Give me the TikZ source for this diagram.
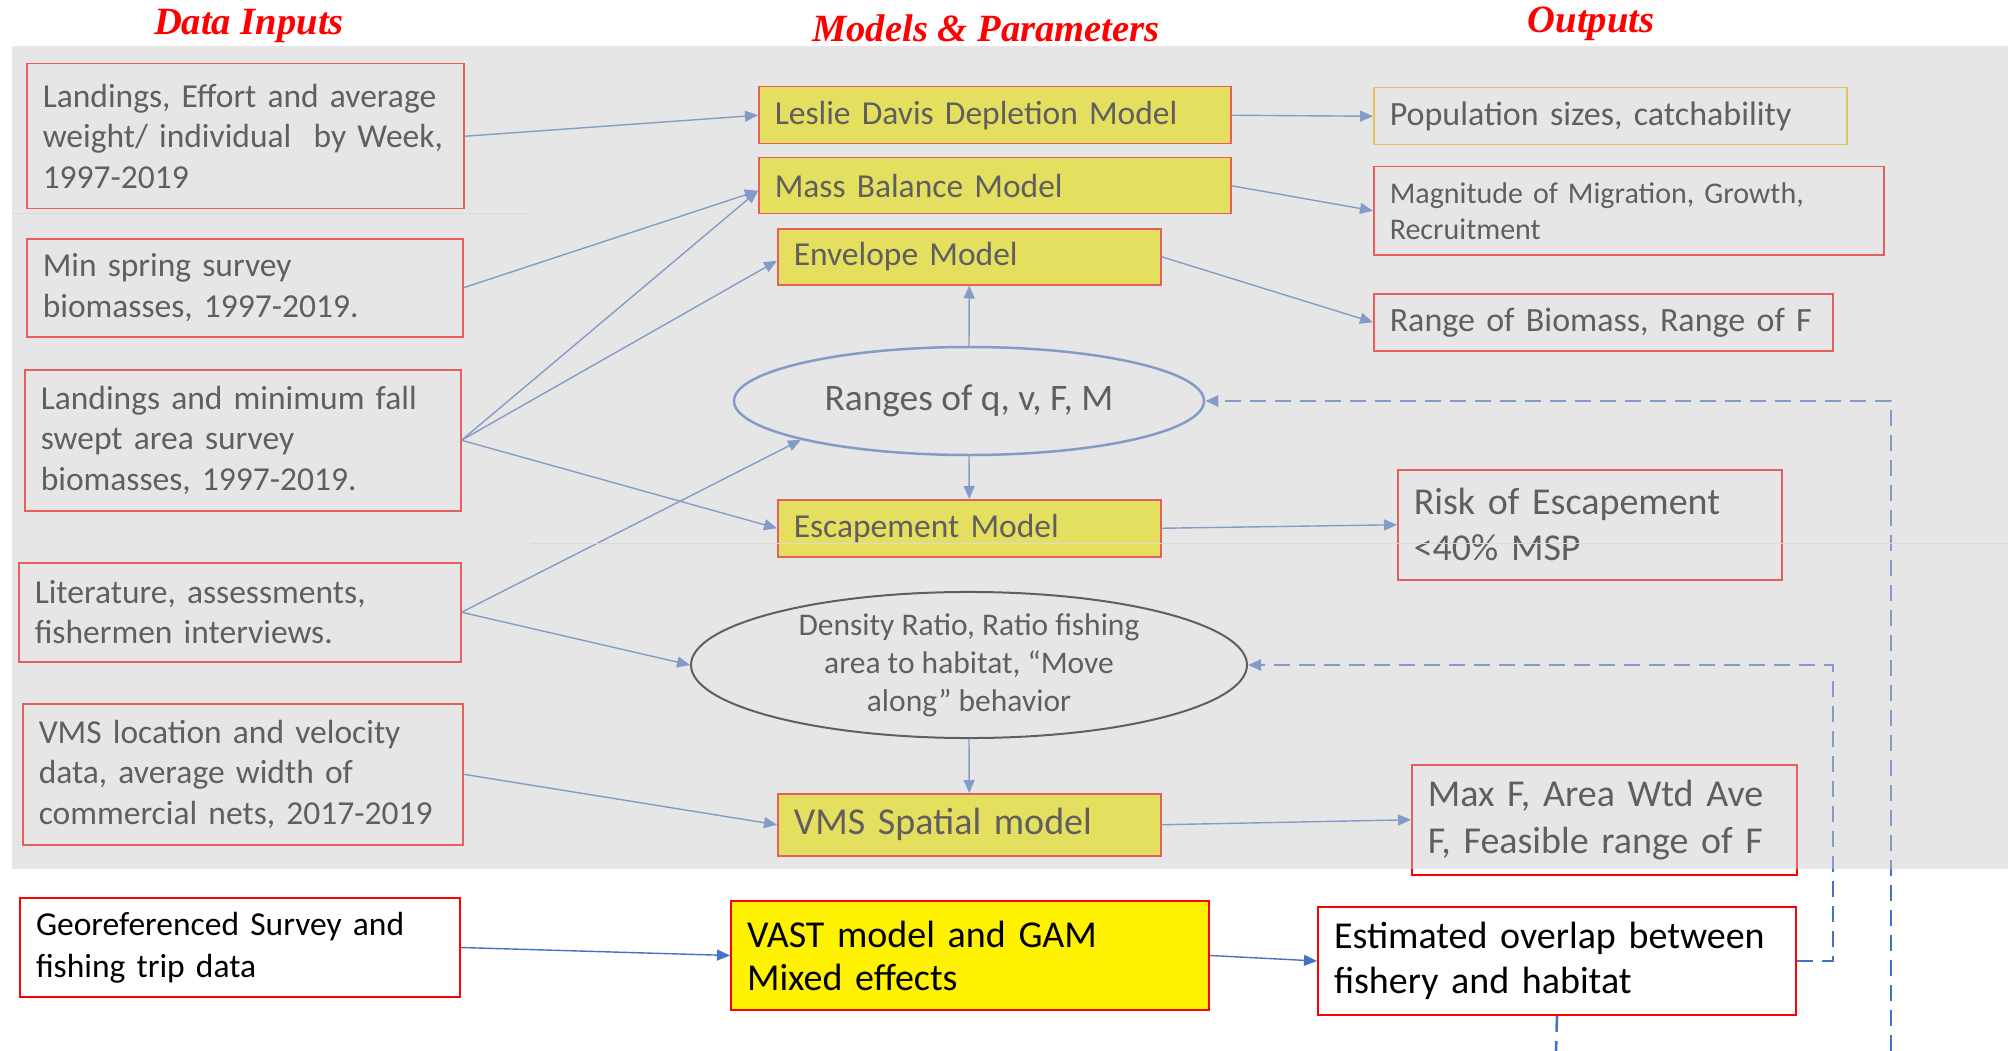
\documentclass[tikz,border=0pt]{standalone}
\usepackage{fontspec}
\setmainfont{Carlito}
\newfontfamily\titlefont{Liberation Serif}
\usetikzlibrary{arrows.meta,shapes.geometric,positioning}
\definecolor{linkblue}{HTML}{4472C4}
\definecolor{gold}{HTML}{FFC000}
\definecolor{hazegray}{RGB}{202,202,202}
\definecolor{seam}{RGB}{218,218,218}
\tikzset{
  databox/.style={draw=red, line width=1.5pt, anchor=north west, align=left,
    inner xsep=16pt, inner ysep=0pt, font=\fontsize{33.5}{40.5}\selectfont},
  modelbox/.style={databox, fill=yellow},
  bigtext/.style={font=\fontsize{38}{46}\selectfont},
  link/.style={draw=linkblue, line width=1.4pt, -{Triangle[length=13pt,width=11pt]}},
  feedback/.style={link, line width=2.6pt, dash pattern=on 16pt off 9pt},
  heading/.style={anchor=base, text=red, font=\titlefont\bfseries\itshape\fontsize{38.6}{40}\selectfont},
  haze/.style={fill=hazegray, fill opacity=0.475},
}
\begin{document}
\begin{tikzpicture}[x=1pt, y=-1pt]
  \useasboundingbox (0,0) rectangle (2010,1051);
  % column headings
  \node[heading] (hin) at (249,35) {Data Inputs};
  \node[heading] (hmod) at (986,42) {Models \& Parameters};
  \node[heading] (hout) at (1591,33) {Outputs};

  % data inputs
  \node[databox, minimum width=437pt, minimum height=145pt, text width=405pt] (in1) at (26,63)
    {Landings, Effort and average\\weight/ individual\ \ by Week,\\1997-2019};
  \node[databox, minimum width=436pt, minimum height=98pt, text width=404pt] (in2) at (26,238)
    {Min spring survey\\biomasses, 1997-2019.};
  \node[databox, minimum width=436pt, minimum height=141pt, text width=404pt] (in3) at (24,369)
    {Landings and minimum fall\\swept area survey\\biomasses, 1997-2019.};
  \node[databox, minimum width=442pt, minimum height=99pt, text width=410pt] (in4) at (18,562)
    {Literature, assessments,\\fishermen interviews.};
  \node[databox, minimum width=440pt, minimum height=141pt, text width=408pt] (in5) at (22,703)
    {VMS location and velocity\\data, average width of\\commercial nets, 2017-2019};
  \node[databox, line width=2pt, minimum width=440pt, minimum height=99pt, text width=408pt, font=\fontsize{33.5}{42}\selectfont] (in6) at (19,897)
    {Georeferenced Survey and\\fishing trip data};

  % models and parameters
  \node[modelbox, minimum width=472pt, minimum height=57pt, text width=440pt] (leslie) at (758,86)
    {Leslie Davis Depletion Model};
  \node[modelbox, minimum width=472pt, minimum height=56pt, text width=440pt] (mass) at (758,157)
    {Mass Balance Model};
  \node[modelbox, minimum width=383pt, minimum height=56pt, text width=351pt] (env) at (777,228)
    {Envelope Model};
  \node[ellipse, draw=linkblue, line width=2.5pt, minimum width=470pt, minimum height=108pt, inner sep=0pt,
    font=\fontsize{37.4}{44}\selectfont] (ranges) at (969,401) {Ranges of q, v, F, M};
  \node[modelbox, minimum width=383pt, minimum height=57pt, text width=351pt] (esc) at (777,499)
    {Escapement Model};
  \node[ellipse, draw=black, line width=2pt, minimum width=556pt, minimum height=144pt, inner sep=0pt,
    align=center, font=\fontsize{31.5}{38}\selectfont] (dens) at (969,665)
    {Density Ratio, Ratio fishing\\area to habitat, “Move\\along” behavior};
  \node[modelbox, bigtext, minimum width=383pt, minimum height=62pt, text width=351pt] (vms) at (777,793)
    {VMS Spatial model};
  \node[modelbox, bigtext, line width=2pt, minimum width=478pt, minimum height=109pt, text width=446pt,
    font=\fontsize{38}{43}\selectfont] (vast) at (730,900)
    {VAST model and GAM\\Mixed effects};

  % outputs
  \node[databox, draw=gold, minimum width=473pt, minimum height=57pt, text width=441pt,
    font=\fontsize{34}{41}\selectfont] (pop) at (1373,87) {Population sizes, catchability};
  \node[databox, minimum width=510pt, minimum height=88pt, text width=478pt,
    font=\fontsize{30}{36}\selectfont] (mag) at (1373,166) {Magnitude of Migration, Growth,\\Recruitment};
  \node[databox, minimum width=459pt, minimum height=57pt, text width=427pt,
    font=\fontsize{34}{41}\selectfont] (range) at (1373,293) {Range of Biomass, Range of F};
  \node[databox, bigtext, minimum width=384pt, minimum height=110pt, text width=352pt] (risk) at (1397,469)
    {Risk of Escapement\\<40\% MSP};
  \node[databox, bigtext, minimum width=385pt, minimum height=110pt, text width=353pt,
    font=\fontsize{38}{47}\selectfont] (max) at (1411,764) {Max F, Area Wtd Ave\\F, Feasible range of F};
  \node[databox, bigtext, line width=2pt, minimum width=478pt, minimum height=108pt, text width=446pt,
    font=\fontsize{38}{45}\selectfont] (est) at (1317,906) {Estimated overlap between\\fishery and habitat};

  % links from inputs
  \draw[link] (in1.east) -- (leslie.west);
  \draw[link] (in2.east) -- ([yshift=-5pt]mass.west);
  \draw[link] (in3.east) -- ([yshift=-5pt]mass.west);
  \draw[link] (in3.east) -- ([yshift=-4pt]env.west);
  \draw[link] (in3.east) -- (esc.west);
  \draw[link] (in4.east) -- (ranges.193);
  \draw[link] (in4.east) -- (dens.west);
  \draw[link] (in5.east) -- (vms.west);
  \draw[link] (in6.east) -- (vast.west);
  % links inside the model column
  \draw[link] (ranges.north) -- (env.south);
  \draw[link] (ranges.south) -- (esc.north);
  \draw[link] (dens.south) -- (vms.north);
  % links to outputs
  \draw[link] (leslie.east) -- (pop.west);
  \draw[link] (mass.east) -- (mag.west);
  \draw[link] (env.east) -- (range.west);
  \draw[link] (esc.east) -- (risk.west);
  \draw[link] (vms.east) -- (max.west);
  \draw[link] (vast.east) -- (est.west);

  % feedback loops
  \coordinate (bendA) at (1833,665);
  \coordinate (tailA) at (1556,1051);
  \coordinate (tailB) at (1891,1051);
  \draw[feedback] (est.east) -| (bendA) -- (dens.east);
  \draw[feedback, -] (est.south) -- (tailA);
  \draw[feedback] (tailB) |- (ranges.east);

  % grey panel laid over the upper rows
  \fill[haze] (12,46) rectangle (2008,869);
  \draw[seam, line width=1pt] (12,214) -- (531,214);
  \draw[seam, line width=1pt] (531,543) -- (2008,543);
\end{tikzpicture}
\end{document}
